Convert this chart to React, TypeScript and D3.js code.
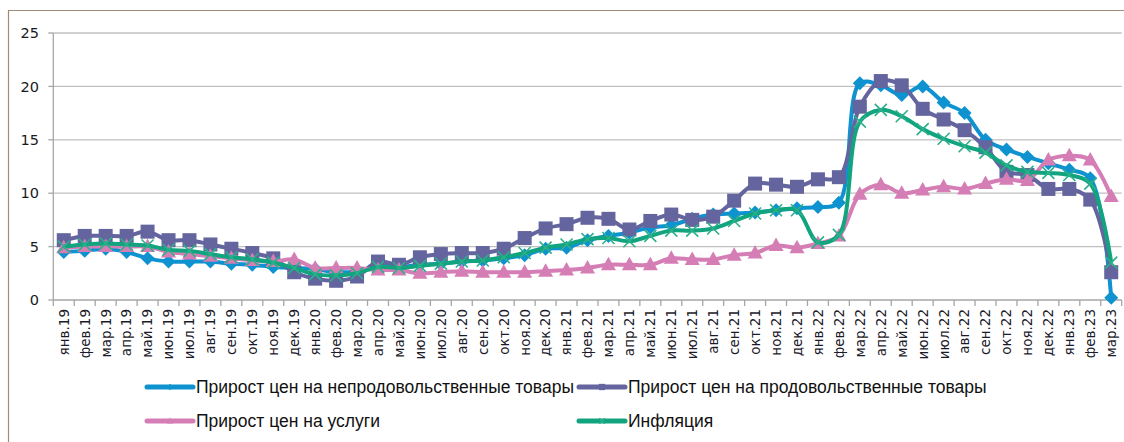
import React from "react";
import * as d3 from "d3";

// months янв.19 .. мар.23
const categories = [
  "янв.19", "фев.19", "мар.19", "апр.19", "май.19", "июн.19", "июл.19", "авг.19", "сен.19", "окт.19", "ноя.19", "дек.19",
  "янв.20", "фев.20", "мар.20", "апр.20", "май.20", "июн.20", "июл.20", "авг.20", "сен.20", "окт.20", "ноя.20", "дек.20",
  "янв.21", "фев.21", "мар.21", "апр.21", "май.21", "июн.21", "июл.21", "авг.21", "сен.21", "окт.21", "ноя.21", "дек.21",
  "янв.22", "фев.22", "мар.22", "апр.22", "май.22", "июн.22", "июл.22", "авг.22", "сен.22", "окт.22", "ноя.22", "дек.22",
  "янв.23", "фев.23", "мар.23",
];

const nonFood = [
  4.5, 4.6, 4.8, 4.5, 3.9, 3.6, 3.6, 3.6, 3.4, 3.3, 3.1, 3.0,
  2.9, 2.6, 2.7, 3.2, 3.1, 3.3, 3.4, 3.6, 3.7, 3.9, 4.2, 4.8,
  4.9, 5.6, 6.0, 6.3, 6.8, 7.0, 7.6, 8.0, 8.1, 8.2, 8.4, 8.6,
  8.7, 9.1, 20.3, 20.1, 19.2, 20.0, 18.5, 17.5, 15.0, 14.1, 13.4, 12.8,
  12.2, 11.4, 0.2,
];

const food = [
  5.6, 6.0, 6.0, 6.0, 6.4, 5.6, 5.6, 5.2, 4.8, 4.4, 3.9, 2.6,
  2.0, 1.8, 2.2, 3.6, 3.3, 4.0, 4.3, 4.4, 4.4, 4.8, 5.8, 6.7,
  7.1, 7.7, 7.6, 6.6, 7.4, 8.0, 7.5, 7.8, 9.3, 10.9, 10.8, 10.6,
  11.3, 11.5, 18.1, 20.5, 20.1, 17.9, 16.9, 15.9, 14.3, 12.0, 11.7, 10.4,
  10.4, 9.4, 2.6,
];

const services = [
  4.9, 5.0, 5.0, 5.0, 5.0, 4.5, 4.3, 4.1, 3.9, 3.7, 3.6, 3.8,
  3.0, 3.0, 3.0, 2.8, 2.8, 2.5, 2.6, 2.7, 2.6, 2.6, 2.6, 2.7,
  2.8, 3.0, 3.3, 3.3, 3.3, 3.9, 3.8, 3.8, 4.2, 4.4, 5.1, 4.9,
  5.3, 6.0, 9.9, 10.8, 10.0, 10.3, 10.6, 10.4, 10.9, 11.3, 11.2, 13.1,
  13.5, 13.1, 9.7,
];

const inflation = [
  5.0, 5.2, 5.3, 5.2, 5.1, 4.7, 4.6, 4.3, 4.0, 3.8, 3.5, 3.0,
  2.4, 2.3, 2.5, 3.1, 3.0, 3.2, 3.4, 3.6, 3.7, 4.0, 4.4, 4.9,
  5.2, 5.7, 5.8, 5.5, 6.0, 6.5, 6.5, 6.7, 7.4, 8.1, 8.4, 8.4,
  5.4, 6.1, 16.7, 17.8, 17.2, 16.0, 15.1, 14.4, 13.8, 12.6, 12.0, 11.9,
  11.7, 10.9, 3.5,
];

const yTicks = [0, 5, 10, 15, 20, 25];

const seriesNames = [
  "Прирост цен на непродовольственные товары",
  "Прирост цен на продовольственные товары",
  "Прирост цен на услуги",
  "Инфляция",
];

const series = [
  { name: seriesNames[0], values: nonFood, color: "#0e93d0", marker: "diamond" },
  { name: seriesNames[1], values: food, color: "#64649e", marker: "square" },
  { name: seriesNames[2], values: services, color: "#d57db5", marker: "triangle" },
  { name: seriesNames[3], values: inflation, color: "#11a47f", marker: "x" },
];

const W = 1124;
const H = 442;
const margin = { left: 53.3, right: 1121.7, top: 33, bottom: 300 };

function Marker({ type, cx, cy, color, s = 1 }) {
  if (type === "diamond") {
    const r = 7 * s;
    return <path d={`M${cx},${cy - r}L${cx + r},${cy}L${cx},${cy + r}L${cx - r},${cy}Z`} fill={color} />;
  }
  if (type === "square") {
    const r = 7 * s;
    return <rect x={cx - r} y={cy - r} width={2 * r} height={2 * r} fill={color} />;
  }
  if (type === "triangle") {
    const w = 7.5 * s;
    return <path d={`M${cx},${cy - 8 * s}L${cx + w},${cy + 5.5 * s}L${cx - w},${cy + 5.5 * s}Z`} fill={color} />;
  }
  const r = 6 * s;
  return (
    <path
      d={`M${cx - r},${cy - r}L${cx + r},${cy + r}M${cx - r},${cy + r}L${cx + r},${cy - r}`}
      stroke="#2bb08a"
      strokeWidth={1.6}
      fill="none"
    />
  );
}

export default function App() {
  const x = d3.scaleBand().domain(categories).range([margin.left, margin.right]);
  const y = d3.scaleLinear().domain([0, 25]).range([margin.bottom, margin.top]);
  const cx = (i) => x(categories[i]) + x.bandwidth() / 2;

  const lineGen = d3
    .line()
    .x((d, i) => cx(i))
    .y((d) => y(d))
    .curve(d3.curveCatmullRom.alpha(0.5));

  const font = "'DejaVu Sans', Verdana, sans-serif";
  const legendFont = "'Liberation Sans', Arial, sans-serif";

  const legendPos = [
    { x: 147, y: 387 },
    { x: 579, y: 387 },
    { x: 147, y: 421 },
    { x: 579, y: 421 },
  ];

  return (
    <svg
      width={W}
      height={H}
      style={{ position: "absolute", left: 0, top: 0, display: "block", background: "#fff" }}
    >
      {/* outer frame */}
      <path d={`M8.5,${H}V10.5H${W}`} fill="none" stroke="#a38a74" strokeWidth={1.2} />

      {/* grid */}
      {yTicks.map((t) => (
        <g key={t}>
          {t > 0 && (
            <line x1={margin.left} x2={margin.right} y1={y(t)} y2={y(t)} stroke="#c0c0c0" strokeWidth={1.3} />
          )}
          <line x1={margin.left - 5} x2={margin.left} y1={y(t)} y2={y(t)} stroke="#a6a6a6" strokeWidth={1.3} />
          <text
            x={39}
            y={y(t)}
            dy="0.36em"
            textAnchor="end"
            fontFamily={font}
            fontSize={14.5}
            fill="#1a1a1a"
          >
            {t}
          </text>
        </g>
      ))}

      {/* axes */}
      <line x1={margin.left} x2={margin.left} y1={margin.top} y2={margin.bottom} stroke="#a6a6a6" strokeWidth={1.3} />
      <line x1={margin.left} x2={margin.right} y1={margin.bottom} y2={margin.bottom} stroke="#a6a6a6" strokeWidth={1.3} />
      {categories.map((c) => (
        <line
          key={"t" + c}
          x1={x(c)}
          x2={x(c)}
          y1={margin.bottom}
          y2={margin.bottom + 6}
          stroke="#a6a6a6"
          strokeWidth={1.3}
        />
      ))}
      <line
        x1={margin.right}
        x2={margin.right}
        y1={margin.bottom}
        y2={margin.bottom + 6}
        stroke="#a6a6a6"
        strokeWidth={1.3}
      />
      {categories.map((c, i) => (
        <text
          key={"l" + c}
          transform={`translate(${cx(i)},${margin.bottom + 9}) rotate(-90)`}
          dy="0.36em"
          textAnchor="end"
          fontFamily={font}
          fontSize={13.5}
          fill="#1a1a2a"
        >
          {c}
        </text>
      ))}

      {/* series */}
      {series.map((s) => (
        <g key={s.name}>
          <path d={lineGen(s.values)} fill="none" stroke={s.color} strokeWidth={4} strokeLinejoin="round" />
          {s.values.map((v, i) => (
            <Marker key={i} type={s.marker} cx={cx(i)} cy={y(v)} color={s.color} />
          ))}
        </g>
      ))}

      {/* legend */}
      {series.map((s, k) => {
        const p = legendPos[k];
        return (
          <g key={"lg" + s.name}>
            <line
              x1={p.x}
              x2={p.x + 46}
              y1={p.y}
              y2={p.y}
              stroke={s.color}
              strokeWidth={5}
              strokeLinecap="round"
            />
            <Marker type={s.marker} cx={p.x + 23} cy={p.y} color={s.color} s={0.45} />
            <text
              x={p.x + 49}
              y={p.y}
              dy="0.36em"
              fontFamily={legendFont}
              fontSize={17.5}
              fill="#111"
            >
              {s.name}
            </text>
          </g>
        );
      })}
    </svg>
  );
}
